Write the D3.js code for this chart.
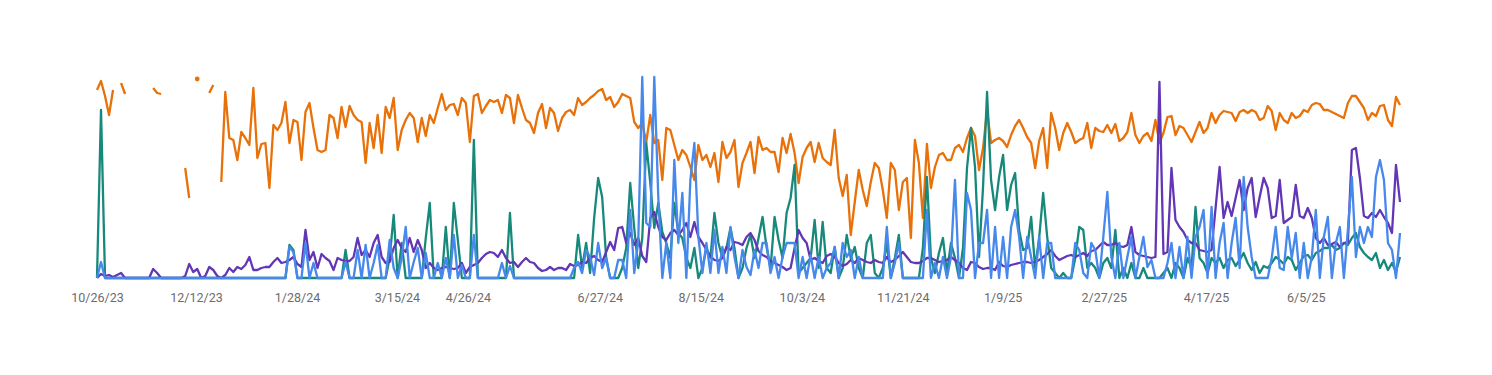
<!DOCTYPE html>
<html>
<head>
<meta charset="utf-8">
<script src="https://cdn.jsdelivr.net/npm/d3@7"></script>
<style>
  body { margin: 0; background: #fff; }
  .axis text { font-family: Roboto, "Noto Sans", sans-serif; font-size: 12.5px; fill: #6c6c6c; }
</style>
</head>
<body>
<div id="chart"></div>
<script>
// tick labels and the row (every ~2 days) they sit on
const tickIndex = [0, 24.7, 49.9, 74.8, 92.5, 125.4, 150.6, 175.8, 201, 225.9, 251.1, 276.6, 301.5];
const tickLabels = ["10/26/23", "12/12/23", "1/28/24", "3/15/24", "4/26/24", "6/27/24", "8/15/24",
  "10/3/24", "11/21/24", "1/9/25", "2/27/25", "4/17/25", "6/5/25"];

const orange = [
  188,197,182,163,188,null,195,184,null,null,
  null,null,null,null,190,185,184,null,null,null,
  null,null,110,80,null,199,null,null,185,193,
  null,96,186,140,138,118,146,140,133,190,
  120,134,135,90,153,148,155,176,135,158,
  156,118,166,175,150,128,126,128,163,160,
  140,171,151,172,163,158,156,115,155,130,
  163,125,171,160,180,128,148,158,165,160,
  136,160,142,163,155,170,184,168,173,174,
  163,180,175,136,182,184,165,172,178,176,
  178,165,183,180,155,183,170,158,155,145,
  165,174,150,170,165,147,160,166,168,163,
  180,173,176,180,183,187,189,178,181,171,
  176,184,182,180,156,150,155,136,163,135,
  138,98,150,148,133,118,128,123,111,98,
  133,118,123,111,125,96,136,120,126,138,
  91,115,125,136,105,141,128,130,126,126,
  106,140,125,144,125,95,121,130,136,116,
  135,120,116,113,148,100,82,103,43,76,
  108,88,72,96,115,110,88,60,115,108,
  68,96,100,40,138,115,60,134,90,111,
  123,125,118,118,130,133,126,140,150,142,
  108,130,168,135,138,140,137,131,143,152,
  158,150,141,135,110,137,150,110,165,150,
  128,145,155,146,135,138,140,155,130,150,
  147,146,153,145,154,137,140,146,165,143,
  135,142,145,137,158,135,145,161,162,143,
  152,150,143,136,146,156,145,150,165,155,
  163,167,166,165,157,166,168,165,168,166,
  158,160,172,167,148,165,158,155,165,160,
  162,168,166,173,175,174,168,168,166,164,
  162,160,175,182,182,176,170,158,165,162,
  172,173,158,152,181,173
];

const green = [
  0,168,0,0,0,0,0,0,0,0,
  0,0,0,0,0,0,0,0,0,0,
  0,0,0,0,0,0,0,0,0,0,
  0,0,0,0,0,0,0,0,0,0,
  0,0,0,0,0,0,0,0,33,28,
  0,0,0,0,0,0,0,0,0,0,
  0,0,28,0,0,0,0,0,0,0,
  0,0,0,20,63,0,35,0,0,0,
  0,0,40,75,0,0,0,51,0,75,
  38,0,0,0,138,0,0,0,0,0,
  0,0,0,65,0,0,0,0,0,0,
  0,0,0,0,0,0,0,0,0,0,
  43,10,35,5,60,100,81,20,0,0,
  0,10,30,95,50,10,40,135,95,50,
  75,46,35,20,75,45,40,20,10,30,
  0,10,30,20,65,35,20,30,50,30,
  0,10,30,43,20,40,61,31,10,61,
  38,20,65,80,113,5,10,15,20,58,
  10,56,10,5,31,0,10,43,20,31,
  10,0,35,43,5,0,10,35,0,20,
  43,0,0,0,0,0,30,101,20,5,
  25,40,5,35,20,0,30,110,150,111,
  21,91,186,98,68,101,123,68,93,105,
  48,28,30,61,10,40,85,41,10,5,
  0,5,0,0,20,51,48,10,15,10,
  0,15,20,10,48,0,10,0,15,0,
  0,10,0,0,0,0,5,10,0,15,
  10,0,20,10,71,20,15,5,20,15,
  20,10,18,20,12,18,25,15,8,16,
  5,12,10,15,21,18,14,21,18,8,
  15,22,23,18,25,27,30,30,33,28,
  30,35,33,40,45,31,25,21,18,25,
  10,18,8,15,6,21
];

const purple = [
  0,4,2,3,1,3,5,0,0,0,
  0,0,0,0,9,5,0,0,0,0,
  0,0,2,14,6,9,0,2,11,8,
  2,0,3,10,6,11,9,13,21,8,
  8,10,11,11,16,20,15,16,18,21,
  14,11,48,18,26,10,24,20,17,8,
  20,18,17,17,21,40,23,28,21,35,
  43,21,15,16,30,38,30,26,40,26,
  38,28,10,15,10,8,10,11,10,9,
  10,15,5,11,13,15,20,24,26,25,
  21,28,20,15,16,11,16,20,16,15,
  10,7,8,11,8,10,10,8,14,12,
  13,16,15,20,22,18,16,26,36,28,
  50,51,35,45,33,40,22,16,60,66,
  51,41,38,45,48,43,48,55,41,56,
  41,35,28,22,18,17,20,31,28,36,
  35,33,41,45,38,27,23,21,17,15,
  13,11,8,10,30,48,40,35,18,20,
  17,15,22,24,21,15,12,14,18,15,
  20,18,16,15,18,16,15,21,16,18,
  22,26,21,16,15,15,17,20,20,18,
  16,17,18,21,18,15,10,8,16,15,
  11,9,10,10,8,16,12,11,13,14,
  15,16,16,15,16,18,21,24,28,22,
  18,20,22,23,21,23,25,22,27,28,
  32,36,33,33,35,32,31,33,51,26,
  23,22,21,20,21,196,24,26,110,58,
  51,46,38,35,35,28,27,26,28,70,
  111,60,76,62,80,98,68,90,100,61,
  81,100,90,60,62,98,55,58,61,93,
  62,60,70,60,40,35,40,33,34,36,
  31,35,36,128,130,100,62,60,65,61,
  68,61,55,45,113,76
];

const blue = [
  0,16,0,0,0,0,0,0,0,0,
  0,0,0,0,0,0,0,0,0,0,
  0,0,0,0,0,0,0,0,0,0,
  0,0,0,0,0,0,0,0,0,0,
  0,0,0,0,0,0,0,0,31,26,
  0,0,35,0,15,0,0,0,0,0,
  0,0,16,0,0,28,0,33,0,15,
  33,0,0,38,10,0,20,51,0,16,
  30,0,25,0,0,15,0,20,0,43,
  0,13,0,0,43,0,0,0,0,0,
  0,15,0,12,0,0,0,0,0,0,
  0,0,0,0,0,0,0,0,0,10,
  16,5,28,21,3,35,10,20,0,0,
  18,18,0,68,5,36,201,55,51,201,
  81,0,35,0,118,35,85,0,98,135,
  41,5,35,5,48,5,31,5,51,21,
  0,28,11,3,28,10,35,35,5,21,
  0,21,35,35,35,0,21,0,23,0,
  21,0,10,15,31,0,35,21,28,0,
  21,0,0,0,0,0,0,51,0,15,
  35,0,0,0,0,0,0,68,0,15,
  0,21,0,21,98,0,0,85,68,0,
  35,35,68,0,51,0,41,0,51,68,
  41,0,41,21,0,41,0,35,35,0,
  0,0,0,0,35,28,5,0,35,28,
  0,41,86,21,0,35,0,21,41,0,
  21,41,11,18,0,0,0,15,35,0,
  31,0,41,0,41,51,68,0,71,0,
  35,55,0,35,60,10,101,51,21,0,
  0,0,0,20,51,10,8,51,20,45,
  0,35,0,21,68,0,41,61,0,35,
  51,0,48,101,21,51,35,51,41,101,
  118,98,35,28,0,45
];

const seriesNames = ["orange", "green", "purple", "blue"];
const seriesColors = ["#e8710a", "#17897a", "#6236b5", "#4688ec"];
const seriesValues = [orange, green, purple, blue];

const width = 1492;
const height = 375;

const svg = d3.select("#chart").append("svg")
  .attr("width", width)
  .attr("height", height)
  .style("display", "block");

const x = d3.scaleLinear().domain([0, orange.length - 1]).range([97, 1400]);
const y = d3.scaleLinear().domain([0, 202]).range([278, 76]);

const xAxis = d3.axisBottom(x)
  .tickValues(tickIndex)
  .tickFormat((d, i) => tickLabels[i])
  .tickSize(0)
  .tickPadding(15);

svg.append("g")
  .attr("class", "axis")
  .attr("transform", "translate(0,278)")
  .call(xAxis)
  .call((g) => g.select(".domain").remove());

const line = d3.line()
  .defined((d) => d != null)
  .x((d, i) => x(i))
  .y((d) => y(d));

seriesValues.forEach((vals, k) => {
  svg.append("path")
    .datum(vals)
    .attr("class", "line " + seriesNames[k])
    .attr("fill", "none")
    .attr("stroke", seriesColors[k])
    .attr("stroke-width", 2.3)
    .attr("stroke-linejoin", "round")
    .attr("d", line);

  // lone points between gaps show as dots
  const lone = vals
    .map((v, i) => ({ v, i }))
    .filter((d) => d.v != null && vals[d.i - 1] == null && vals[d.i + 1] == null);
  svg.selectAll(".dot-" + seriesNames[k])
    .data(lone)
    .join("circle")
    .attr("class", "dot-" + seriesNames[k])
    .attr("cx", (d) => x(d.i))
    .attr("cy", (d) => y(d.v))
    .attr("r", 2.4)
    .attr("fill", seriesColors[k]);
});
</script>
</body>
</html>
